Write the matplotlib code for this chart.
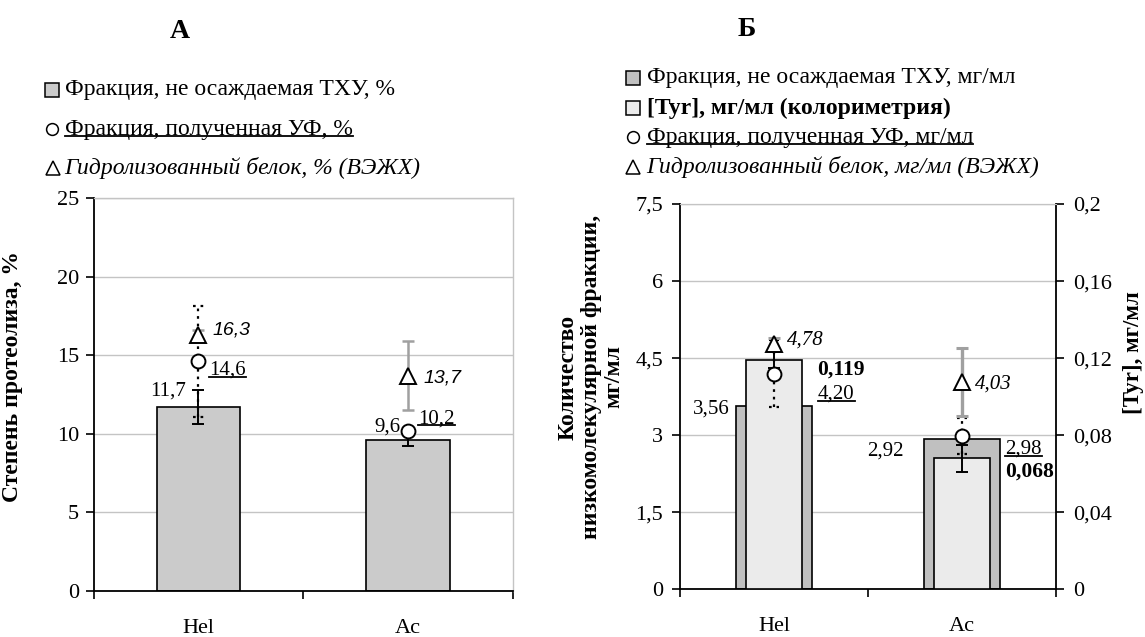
import matplotlib
matplotlib.use("Agg")
import matplotlib.pyplot as plt
from matplotlib.lines import Line2D

plt.rcParams["font.family"] = ["Liberation Serif", "DejaVu Serif"]

# ---------------- data ----------------
categories = ["Hel", "Ac"]

# Panel A: degree of proteolysis, %
tca_pct = [11.7, 9.6]
tca_pct_err = [1.1, 0.4]
uf_pct = [14.6, 10.2]
uf_pct_err = [3.5, 0.2]
hplc_pct = [16.3, 13.7]
hplc_pct_err = [0.3, 2.2]

# Panel B: low-molecular fraction, mg/ml
tca_mg = [3.56, 2.92]
tyr_mg = [0.119, 0.068]
tyr_mg_err = [0.004, 0.007]
uf_mg = [4.20, 2.98]
uf_mg_err = [0.65, 0.35]
hplc_mg = [4.78, 4.03]
hplc_mg_err = [0.12, 0.66]

yticks_a = [0, 5, 10, 15, 20, 25]
yticks_b_left = [0, 1.5, 3, 4.5, 6, 7.5]
yticks_b_right = [0, 0.04, 0.08, 0.12, 0.16, 0.2]

# ---------------- styling ----------------
W, H = 1145, 637
fig = plt.figure(figsize=(W / 100, H / 100), dpi=100)
PX = 72 / 100  # points per pixel

TICK_FS = 16
VAL_FS = 15
LEG_FS = 17
GRID_C = "#c4c4c4"
ERR_GRAY = "#a0a0a0"


def comma(v, fmt):
    return format(v, fmt).replace(".", ",")


def frac_box(x0, y0, x1, y1):
    return [x0 / W, 1 - y1 / H, (x1 - x0) / W, (y1 - y0) / H]


def style_cat_axis(ax):
    x = range(len(categories))
    ax.set_xlim(-0.5, len(categories) - 0.5)
    ax.set_xticks(list(x))
    ax.set_xticklabels(categories, fontsize=TICK_FS)
    ax.set_xticks([-0.5, 0.5, 1.5], minor=True)
    ax.tick_params(axis="x", which="major", length=0, pad=20)
    ax.tick_params(axis="x", which="minor", length=6, width=1.2, direction="out")


def dotted_err(ax, x, y, err, half):
    for xi, yi, ei in zip(x, y, err):
        ax.vlines(xi, yi - ei, yi + ei, colors="black", linestyles=(0, (1.2, 2.2)),
                  lw=1.6, zorder=4)
        ax.hlines([yi - ei, yi + ei], xi - half, xi + half, colors="black",
                  linestyles=(0, (1.2, 2.2)), lw=1.6, zorder=4)


def value_label(ax, x, y, text, dx, dy, ha, **kw):
    kw.setdefault("fontsize", VAL_FS)
    return ax.annotate(text, (x, y), xytext=(dx * PX, dy * PX),
                       textcoords="offset points", ha=ha, va="center",
                       zorder=8, **kw)


underlined = []

# ======================= Panel A =======================
axA = fig.add_axes(frac_box(93.6, 198, 513, 591))
xs = list(range(len(categories)))
axA.bar(xs, tca_pct, width=0.4, color="#cbcbcb", edgecolor="black", lw=1.2, zorder=2)
axA.errorbar(xs, tca_pct, yerr=tca_pct_err, fmt="none", ecolor="black",
             elinewidth=1.4, capsize=4, capthick=1.4, zorder=3)
dotted_err(axA, xs, uf_pct, uf_pct_err, 0.025)
axA.errorbar(xs, hplc_pct, yerr=hplc_pct_err, fmt="none", ecolor=ERR_GRAY,
             elinewidth=1.8, capsize=4.5, capthick=1.8, zorder=4)
axA.plot(xs, uf_pct, ls="none", marker="o", ms=10, mfc="white", mec="black",
         mew=1.4, zorder=6)
axA.plot(xs, hplc_pct, ls="none", marker="^", ms=11, mfc="white", mec="black",
         mew=1.4, zorder=6)

axA.set_ylim(0, 25)
axA.set_yticks(yticks_a)
axA.set_yticklabels([str(t) for t in yticks_a], fontsize=TICK_FS)
axA.tick_params(axis="y", length=6, width=1.2, direction="out", pad=4.5)
style_cat_axis(axA)
axA.yaxis.grid(True, color=GRID_C, lw=1)
axA.set_axisbelow(True)
for s in ("left", "bottom"):
    axA.spines[s].set_linewidth(1.3)
for s in ("top", "right"):
    axA.spines[s].set_color(GRID_C)
    axA.spines[s].set_linewidth(1)

# value labels, panel A
value_label(axA, 0, tca_pct[0], comma(tca_pct[0], ".1f"), -12, 16, "right")
value_label(axA, 1, tca_pct[1], comma(tca_pct[1], ".1f"), -8, 13, "right")
underlined.append(value_label(axA, 0, uf_pct[0], comma(uf_pct[0], ".1f"), 11, -9, "left"))
underlined.append(value_label(axA, 1, uf_pct[1], comma(uf_pct[1], ".1f"), 10, 12, "left"))
for i, (dx, dy) in enumerate([(14, 5), (15, -2)]):
    value_label(axA, i, hplc_pct[i], comma(hplc_pct[i], ".1f"), dx, dy, "left",
                family="Liberation Sans", style="italic", fontsize=14)

axA.set_ylabel("Степень протеолиза, %", fontsize=17, fontweight="bold")
axA.yaxis.set_label_coords((23 - 93.6) / (513 - 93.6), (591 - 377) / (591 - 198))

# ======================= Panel Б =======================
axB = fig.add_axes(frac_box(680, 204, 1056, 589.3))
axB.bar(xs, tca_mg, width=0.4, color="#c0c0c0", edgecolor="black", lw=1.2, zorder=2)
axB.set_ylim(0, 7.5)
axB.set_yticks(yticks_b_left)
axB.set_yticklabels([comma(t, "g") for t in yticks_b_left], fontsize=TICK_FS)
axB.tick_params(axis="y", length=6, width=1.2, direction="out", pad=6)
style_cat_axis(axB)
axB.yaxis.grid(True, color=GRID_C, lw=1)
axB.set_axisbelow(True)
axB.spines["left"].set_linewidth(1.3)
axB.spines["bottom"].set_linewidth(1.3)
axB.spines["top"].set_color(GRID_C)
axB.spines["right"].set_visible(False)

# Tyr (colorimetry) on the secondary axis
axT = axB.twinx()
axT.bar(xs, tyr_mg, width=0.3, color="#ebebeb", edgecolor="black", lw=1.2, zorder=2)
axT.errorbar(xs, tyr_mg, yerr=tyr_mg_err, fmt="none", ecolor="black",
             elinewidth=1.4, capsize=4, capthick=1.4, zorder=3)
axT.set_ylim(0, 0.2)
axT.set_yticks(yticks_b_right)
axT.set_yticklabels([comma(t, "g") for t in yticks_b_right], fontsize=TICK_FS)
axT.tick_params(axis="y", length=5.5, width=1.2, direction="out", pad=6.5)
axT.spines["right"].set_linewidth(1.3)
axT.spines["top"].set_color(GRID_C)
axT.spines["left"].set_visible(False)
axT.spines["bottom"].set_visible(False)

# overlay for points measured in mg/ml
axP = axB.twinx()
axP.set_ylim(0, 7.5)
axP.set_axis_off()
dotted_err(axP, xs, uf_mg, uf_mg_err, 0.028)
axP.errorbar(xs, hplc_mg, yerr=hplc_mg_err, fmt="none", ecolor=ERR_GRAY,
             elinewidth=2.4, capsize=4.5, capthick=2.2, zorder=4)
axP.plot(xs, uf_mg, ls="none", marker="o", ms=10, mfc="white", mec="black",
         mew=1.4, zorder=6)
axP.plot(xs, hplc_mg, ls="none", marker="^", ms=11, mfc="white", mec="black",
         mew=1.4, zorder=6)

value_label(axP, 0, tca_mg[0], comma(tca_mg[0], ".2f"), -44, -3, "right")
value_label(axP, 1, tca_mg[1], comma(tca_mg[1], ".2f"), -58, -12, "right")
for i, (dx, dy) in enumerate([(43, -10), (43, -13)]):
    value_label(axT, i, tyr_mg[i], comma(tyr_mg[i], ".3f"), dx, dy, "left",
                fontweight="bold", fontsize=15.5)
for i, (dx, dy) in enumerate([(44, -21), (43, -13)]):
    underlined.append(value_label(axP, i, uf_mg[i], comma(uf_mg[i], ".2f"), dx, dy, "left"))
for i, (dx, dy) in enumerate([(13, 4), (13, -2)]):
    value_label(axP, i, hplc_mg[i], comma(hplc_mg[i], ".2f"), dx, dy, "left",
                style="italic")

fig.text(591 / W, 1 - 377 / H,
         "Количество\nнизкомолекулярной фракции,\nмг/мл",
         rotation=90, ha="center", va="center", fontsize=17, fontweight="bold",
         multialignment="center", linespacing=1.1)
fig.text(1134 / W, 1 - 353 / H, "[Tyr], мг/мл", rotation=90, ha="center",
         va="center", fontsize=16.5, fontweight="bold")

# ---------------- panel titles ----------------
fig.text(180 / W, 1 - 31 / H, "А", ha="center", va="center", fontsize=20,
         fontweight="bold")
fig.text(747 / W, 1 - 30 / H, "Б", ha="center", va="center", fontsize=20,
         fontweight="bold")

# ---------------- legends ----------------
def legend_row(xm, xt, y, marker, ms, face, text, **kw):
    fig.add_artist(Line2D([xm / W], [1 - y / H], marker=marker, ms=ms, mfc=face,
                          mec="black", mew=1.1, ls="none",
                          transform=fig.transFigure))
    return fig.text(xt / W, 1 - y / H, text, ha="left", va="center",
                    fontsize=LEG_FS, **kw)


legend_row(52, 65, 90, "s", 9.5, "#cbcbcb", "Фракция, не осаждаемая ТХУ, %")
underlined.append(legend_row(52, 65, 129, "o", 8.5, "white",
                             "Фракция, полученная УФ, %"))
legend_row(53, 64, 168, "^", 10, "white", "Гидролизованный белок, % (ВЭЖХ)",
           style="italic")

legend_row(633, 647, 78, "s", 9.5, "#c0c0c0", "Фракция, не осаждаемая ТХУ, мг/мл")
legend_row(633, 647, 108, "s", 9.5, "#ebebeb", "[Tyr], мг/мл (колориметрия)",
           fontweight="bold")
underlined.append(legend_row(633, 647, 137, "o", 8.5, "white",
                             "Фракция, полученная УФ, мг/мл"))
legend_row(633, 646, 167, "^", 10, "white",
           "Гидролизованный белок, мг/мл (ВЭЖХ)", style="italic")

# ---------------- underlines ----------------
fig.canvas.draw()
renderer = fig.canvas.get_renderer()
for t in underlined:
    bb = t.get_window_extent(renderer)
    yline = bb.y0 + 0.16 * bb.height
    fig.add_artist(Line2D([bb.x0 / W, bb.x1 / W], [yline / H, yline / H],
                          color="black", lw=1.3, transform=fig.transFigure))

fig.savefig("out.png", dpi=100)
